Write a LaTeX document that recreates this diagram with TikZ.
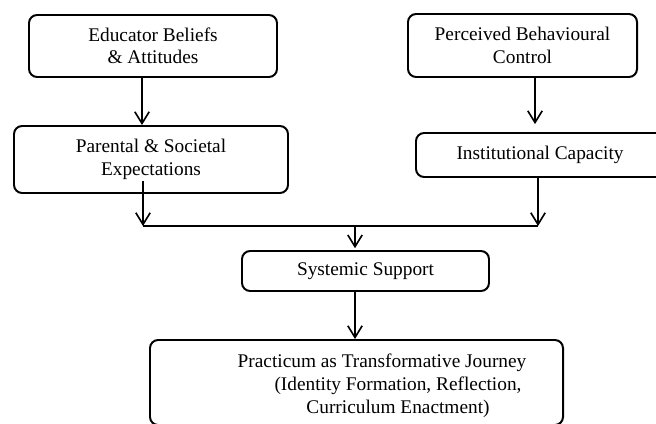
\documentclass[tikz,border=0pt]{standalone}
\usepackage{fontspec}
\setmainfont{Liberation Serif}
\usetikzlibrary{positioning}
\usetikzlibrary{arrows.meta}
\newlength{\px}
\setlength{\px}{0.556pt}
\tikzset {
  % rounded boxes
  box/.style = {draw, rounded corners=4.5pt, line width=1.1pt, align=center, inner sep=0pt,
    font=\fontsize{10.75}{12.4}\selectfont},
  % plain text
  txt/.style = {align=center, inner sep=0pt, font=\fontsize{10.75}{12.8}\selectfont},
  % open-headed arrows
  arr/.style = {-{Straight Barb[length=6.5pt, width=8pt]}, line width=0.9pt},
}

\begin{document}
\begin{tikzpicture}[x=0.556pt, y=-0.556pt]
  \useasboundingbox (0,0) rectangle (656,424);

  \node[box, minimum width=248\px, minimum height=62\px] (edu) at (153,46) {Educator Beliefs\\\& Attitudes};
  \node[box, minimum width=274\px, minimum height=67\px] (par) at (151,159.5) {Parental \& Societal\\Expectations};
  \node[box, minimum width=229\px, minimum height=63\px] (per) at (522.5,45.5) {Perceived Behavioural\\Control};
  \node[box, minimum width=248\px, minimum height=44\px] (ins) at (540,155) {Institutional Capacity};
  \node[box, minimum width=247\px, minimum height=40\px] (sys) at (365.5,271) {Systemic Support};
  \node[box, minimum width=413\px, minimum height=85\px] (prac) at (356.5,382.5) {};
  \node[txt] (pracText) at (398,386) {Practicum as Transformative Journey\hspace*{17.8pt}\\(Identity Formation, Reflection,\\Curriculum Enactment)};

  \coordinate (pl) at (143,226);
  \coordinate (pr) at (538,226);
  \coordinate (jn) at (355,226);

  \draw [arr] (edu.south -| 142,0) -- (par.north -| 142,0);
  \draw [arr] (per.south -| 535,0) -- ([yshift=4.4pt]ins.north -| 535,0);
  \draw [arr] ([yshift=7.2pt]par.south -| pl) -- (pl);
  \draw [arr] (ins.south -| pr) -- (pr);
  \draw [line width=0.9pt] (pl) -- (pr);
  \draw [arr] (jn) -- ([yshift=1pt]sys.north -| jn);
  \draw [arr] (sys.south -| jn) -- (prac.north -| jn);
\end{tikzpicture}
\end{document}
